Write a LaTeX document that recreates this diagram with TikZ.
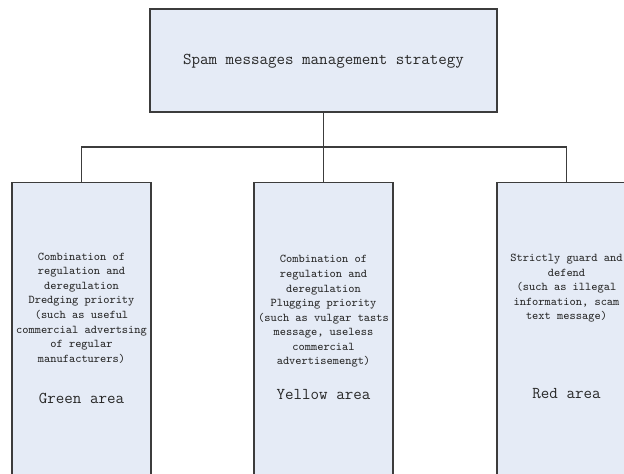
\documentclass[tikz,border=0pt]{standalone}
\usepackage{tikz}

\definecolor{boxfill}{RGB}{229,235,246}
\definecolor{boxline}{RGB}{60,60,60}
\definecolor{txt}{RGB}{40,40,40}

\tikzset{
  panel/.style={draw=boxline, fill=boxfill, line width=0.8pt, rectangle, inner sep=0pt},
  desc/.style={align=center, text=txt, font=\ttfamily\fontsize{8.9}{10.9}\selectfont},
  area/.style={text=txt, font=\ttfamily\fontsize{12.4}{14}\selectfont}
}

\begin{document}
\begin{tikzpicture}[x=0.75pt, y=-0.75pt]

    \clip (0,0) rectangle (624,474);

    \node[panel, minimum width=347*0.75pt, minimum height=103*0.75pt] (top) at (323.5,60.5) {};

    \node[area] (title) at (323.5,61) {Spam messages management strategy};


    \node[panel, minimum width=139*0.75pt, minimum height=330*0.75pt, anchor=north] (green) at (81.5,181.5) {};

    \node[panel, minimum width=139*0.75pt, minimum height=330*0.75pt, anchor=north] (yellow) at (323.5,181.5) {};

    \node[panel, minimum width=139*0.75pt, minimum height=330*0.75pt, anchor=north] (red) at (566.5,181.5) {};


    \coordinate (bus) at (323.5,147);

    \draw[boxline, line width=0.8pt] (top.south) -- (yellow.north);

    \draw[boxline, line width=0.8pt] (green.north) -- (green.north |- bus) -| (red.north);


    \node[desc] (gtext) at (81.5,308) {Combination of\\regulation and\\deregulation\\Dredging priority\\(such as useful\\commercial advertsing\\of regular\\manufacturers)};

    \node[area] (glabel) at (81.5,398) {Green area};


    \node[desc] (ytext) at (323.5,311.5) {Combination of\\regulation and\\deregulation\\Plugging priority\\(such as vulgar tasts\\message, useless\\commercial\\advertisemengt)};

    \node[area] (ylabel) at (323.5,394) {Yellow area};


    \node[desc] (rtext) at (566.5,288.5) {Strictly guard and\\defend\\(such as illegal\\information, scam\\text message)};

    \node[area] (rlabel) at (566.5,394) {Red area};

\end{tikzpicture}
\end{document}
